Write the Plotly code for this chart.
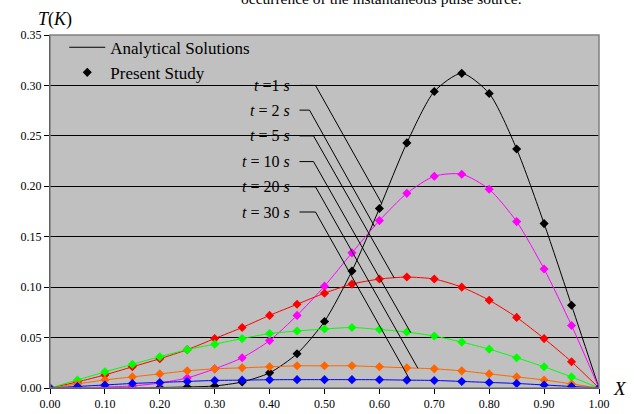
import numpy as np
import plotly.graph_objects as go

X = [0.00, 0.05, 0.10, 0.15, 0.20, 0.25, 0.30, 0.35, 0.40, 0.45, 0.50,
     0.55, 0.60, 0.65, 0.70, 0.75, 0.80, 0.85, 0.90, 0.95, 1.00]

T_1s = [0.0, 0.0, 0.0, 0.0, 0.0005, 0.001, 0.002, 0.006, 0.015, 0.034, 0.066,
        0.116, 0.178, 0.243, 0.294, 0.312, 0.292, 0.237, 0.163, 0.082, 0.0]
T_2s = [0.0, 0.0, 0.001, 0.002, 0.005, 0.010, 0.019, 0.030, 0.047, 0.072, 0.101,
        0.134, 0.166, 0.193, 0.210, 0.212, 0.197, 0.165, 0.118, 0.062, 0.0]
T_5s = [0.0, 0.006, 0.013, 0.021, 0.029, 0.038, 0.049, 0.060, 0.072, 0.083, 0.094,
        0.103, 0.108, 0.110, 0.108, 0.100, 0.087, 0.070, 0.049, 0.026, 0.0]
T_10s = [0.0, 0.008, 0.016, 0.0235, 0.031, 0.038, 0.0435, 0.049, 0.054, 0.0565, 0.0585,
         0.060, 0.058, 0.0555, 0.0515, 0.0455, 0.0385, 0.030, 0.021, 0.011, 0.0]
T_20s = [0.0, 0.004, 0.008, 0.011, 0.014, 0.017, 0.019, 0.020, 0.021, 0.022, 0.022,
         0.022, 0.021, 0.020, 0.019, 0.017, 0.014, 0.011, 0.008, 0.004, 0.0]
T_30s = [0.0, 0.0015, 0.003, 0.0045, 0.0055, 0.0065, 0.0075, 0.0078, 0.0082, 0.0083, 0.0083,
         0.0083, 0.0082, 0.0078, 0.0075, 0.0065, 0.0055, 0.0045, 0.003, 0.0015, 0.0]

series_names = ["t = 1 s", "t = 2 s", "t = 5 s", "t = 10 s", "t = 20 s", "t = 30 s"]
series_values = [T_1s, T_2s, T_5s, T_10s, T_20s, T_30s]
series_colors = ["#000000", "#FF00FF", "#FF0000", "#00FF00", "#FF6600", "#0000FF"]
label_texts = ["<i>t</i> =1 <i>s</i>", "<i>t</i> = 2 <i>s</i>", "<i>t</i> = 5 <i>s</i>",
               "<i>t</i> = 10 <i>s</i>", "<i>t</i> = 20 <i>s</i>", "<i>t</i> = 30 <i>s</i>"]
label_levels = [0.300, 0.2755, 0.250, 0.2245, 0.1995, 0.1745]
leader_x_start = [0.4545, 0.4545, 0.4545, 0.4545, 0.4545, 0.4545]
leader_x_knee = [0.4836, 0.4727, 0.480, 0.480, 0.4836, 0.4836]
leader_x_end = [0.604, 0.591, 0.627, 0.657, 0.670, 0.656]

x_ticks = [0.0, 0.1, 0.2, 0.3, 0.4, 0.5, 0.6, 0.7, 0.8, 0.9, 1.0]
y_ticks = [0.0, 0.05, 0.10, 0.15, 0.20, 0.25, 0.30, 0.35]

FONT = "Liberation Serif"

fig = go.Figure()

for name, vals, col in zip(series_names, series_values, series_colors):
    fig.add_trace(go.Scatter(
        x=X, y=vals, mode="lines+markers", name=name, showlegend=False,
        line=dict(color=col, width=1, shape="spline", smoothing=0.7),
        marker=dict(symbol="diamond", size=7, color=col),
    ))

# legend entries
fig.add_trace(go.Scatter(x=[None], y=[None], mode="lines", name="Analytical Solutions",
                         line=dict(color="black", width=1)))
fig.add_trace(go.Scatter(x=[None], y=[None], mode="markers", name="Present Study",
                         marker=dict(symbol="diamond", size=7, color="black")))

shapes = []
annotations = []
for txt, lvl, xs, xk, xe, vals in zip(label_texts, label_levels, leader_x_start,
                                      leader_x_knee, leader_x_end, series_values):
    ye = float(np.interp(xe, X, vals))
    shapes.append(dict(type="line", xref="x", yref="y", x0=xs, x1=xk, y0=lvl, y1=lvl,
                       line=dict(color="black", width=1)))
    shapes.append(dict(type="line", xref="x", yref="y", x0=xk, x1=xe, y0=lvl, y1=ye,
                       line=dict(color="black", width=1)))
    annotations.append(dict(x=0.44, y=lvl, xref="x", yref="y", text=txt, showarrow=False,
                            xanchor="right", yanchor="middle",
                            font=dict(family=FONT, size=16, color="black")))

# plot-area border
shapes.append(dict(type="rect", xref="paper", yref="paper", x0=0, x1=1, y0=0, y1=1,
                   line=dict(color="#808080", width=1.5), layer="above"))

annotations.append(dict(x=0.603, y=1.1035, xref="paper", yref="paper",
                        text="occurrence of the instantaneous pulse source.",
                        showarrow=False, xanchor="center", yanchor="middle",
                        font=dict(family=FONT, size=15.5, color="black")))
annotations.append(dict(x=0.01, y=1.044, xref="paper", yref="paper",
                        text="<i>T</i>(<i>K</i>)", showarrow=False,
                        xanchor="center", yanchor="middle",
                        font=dict(family=FONT, size=18, color="black")))
annotations.append(dict(x=1.0385, y=0.0, xref="paper", yref="paper",
                        text="<i>X</i>", showarrow=False,
                        xanchor="center", yanchor="middle",
                        font=dict(family=FONT, size=19, color="black")))

fig.update_layout(
    width=634, height=414,
    margin=dict(l=50, r=35, t=35, b=26, autoexpand=False),
    paper_bgcolor="white", plot_bgcolor="#C0C0C0",
    font=dict(family=FONT, color="black"),
    showlegend=True,
    legend=dict(x=0.026, y=1.015, xanchor="left", yanchor="top",
                bgcolor="rgba(0,0,0,0)", borderwidth=0,
                font=dict(family=FONT, size=17, color="black"),
                itemwidth=36, tracegroupgap=0),
    shapes=shapes, annotations=annotations,
)
fig.update_xaxes(range=[0, 1], tickvals=x_ticks, tickformat=".2f", showgrid=False,
                 zeroline=False, showline=True, linecolor="black", linewidth=1,
                 ticks="outside", ticklen=5, tickcolor="black", automargin=False,
                 tickfont=dict(family=FONT, size=12, color="black"))
fig.update_yaxes(range=[0, 0.35], tickvals=y_ticks, tickformat=".2f", showgrid=True,
                 gridcolor="black", gridwidth=1, zeroline=False, showline=True,
                 linecolor="black", linewidth=1, ticks="outside", ticklen=5,
                 tickcolor="black", automargin=False,
                 tickfont=dict(family=FONT, size=12, color="black"))

fig.write_html("out.html", config={"displayModeBar": False},
               post_script="document.body.style.margin='0';document.body.style.padding='0';")
